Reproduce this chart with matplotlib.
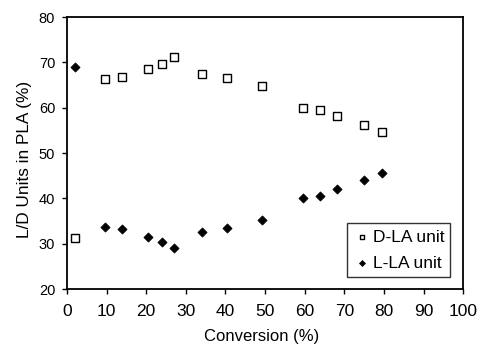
import matplotlib
matplotlib.use('Agg')
from matplotlib import pyplot as plt

plt.rcParams['font.family'] = ['Liberation Sans', 'DejaVu Sans']

conversion = [2, 9.5, 13.8, 20.5, 24, 27, 34, 40.5, 49.3, 59.6, 63.8, 68.1, 75, 79.4]
d_la = [31.2, 66.3, 66.8, 68.6, 69.6, 71.1, 67.5, 66.5, 64.7, 59.9, 59.4, 58.1, 56.1, 54.6]
l_la = [69.0, 33.8, 33.3, 31.5, 30.4, 29.0, 32.5, 33.5, 35.3, 40.2, 40.6, 42.0, 44.0, 45.6]

fig = plt.figure(figsize=(4.82, 3.56), dpi=100)
ax = fig.add_axes([0.139, 0.188, 0.822, 0.764])

ax.scatter(conversion, d_la, marker='s', s=30, facecolors='white', edgecolors='black',
           linewidths=1.0, label='D-LA unit', zorder=3)
ax.scatter(conversion, l_la, marker='D', s=22, color='black', linewidths=0.5,
           label='L-LA unit', zorder=3)

ax.set_xlim(0, 100)
ax.set_ylim(20, 80)
ax.set_xticks(range(0, 101, 10))
ax.set_yticks(range(20, 81, 10))
ax.tick_params(direction='out', length=3.5, width=1)
ax.tick_params(axis='x', labelsize=12.5, pad=7)
ax.tick_params(axis='y', labelsize=10.5, pad=5)
for s in ax.spines.values():
    s.set_linewidth(1.3)

ax.set_xlabel('Conversion (%)', fontsize=12)
ax.set_ylabel('L/D Units in PLA (%)', fontsize=12.4)
ax.xaxis.set_label_coords(0.49, -0.148)
ax.yaxis.set_label_coords(-0.088, 0.478)

leg = ax.legend(loc='lower right', bbox_to_anchor=(0.967, 0.044), frameon=True, fancybox=False,
                edgecolor='black', fontsize=12.5, handletextpad=0.1, borderpad=0.35,
                handlelength=1.0, labelspacing=0.65, borderaxespad=0, markerscale=0.65)
leg.get_frame().set_linewidth(1.0)

fig.savefig('out.png', dpi=100)
